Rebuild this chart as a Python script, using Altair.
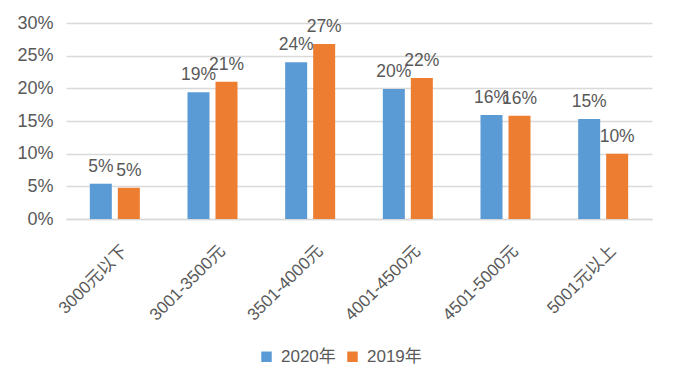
import altair as alt
import pandas as pd

categories = ["3000元以下", "3001-3500元", "3501-4000元", "4001-4500元", "4501-5000元", "5001元以上"]
series = ["2020年", "2019年"]
values_2020 = [0.054, 0.194, 0.240, 0.199, 0.159, 0.153]
values_2019 = [0.048, 0.210, 0.268, 0.216, 0.158, 0.100]
y_ticks = [0, 0.05, 0.10, 0.15, 0.20, 0.25, 0.30]
colors = ["#5B9BD5", "#ED7D31"]

rows = []
for c, a, b in zip(categories, values_2020, values_2019):
    rows.append({"cat": c, "year": series[0], "v": a})
    rows.append({"cat": c, "year": series[1], "v": b})
df = pd.DataFrame(rows)

FONT = "Liberation Sans, Noto Sans CJK SC"
TXT = "#595959"

x = alt.X("cat:N", sort=categories, title=None,
          scale=alt.Scale(paddingInner=0.488, paddingOuter=0.244),
          axis=alt.Axis(labelAngle=-45, labelAlign="right", labelBaseline="middle",
                        labelFontSize=17, labelColor=TXT, labelFont=FONT,
                        labelOffset=10, labelPadding=29, ticks=False,
                        domainColor="#d9d9d9", domainWidth=1.5))
xo = alt.XOffset("year:N", sort=series, scale=alt.Scale(paddingInner=0.214, paddingOuter=0))
y = alt.Y("v:Q", title=None,
          scale=alt.Scale(domain=[0, 0.3], nice=False),
          axis=alt.Axis(values=y_ticks, format=".0%", labelFontSize=18, labelColor=TXT,
                        labelFont=FONT, ticks=False, domain=False, labelPadding=13,
                        labelOverlap=False, gridColor="#d9d9d9", gridWidth=1.5))
color = alt.Color("year:N", sort=series,
                  scale=alt.Scale(domain=series, range=colors),
                  legend=alt.Legend(title=None, orient="none", legendX=192, legendY=325,
                                    direction="horizontal", symbolType="square",
                                    symbolSize=110, symbolStrokeWidth=0,
                                    labelFontSize=17, labelColor=TXT, labelFont=FONT,
                                    labelOffset=6, columnPadding=8))

bars = alt.Chart(df).mark_bar().encode(x=x, xOffset=xo, y=y, color=color)
labels = alt.Chart(df).mark_text(baseline="alphabetic", dy=-12, fontSize=17.5,
                                 color=TXT, font=FONT).encode(
    x=x, xOffset=xo, y=y,
    text=alt.Text("v:Q", format=".0%"))

chart = (bars + labels).properties(
    width=586, height=196,
    background="white",
    autosize=alt.AutoSizeParams(type="none"),
    padding={"left": 58, "top": 15, "right": 16, "bottom": 159},
).configure_view(stroke=None)

chart.save("out.html", embed_options={"renderer": "svg", "actions": False})
